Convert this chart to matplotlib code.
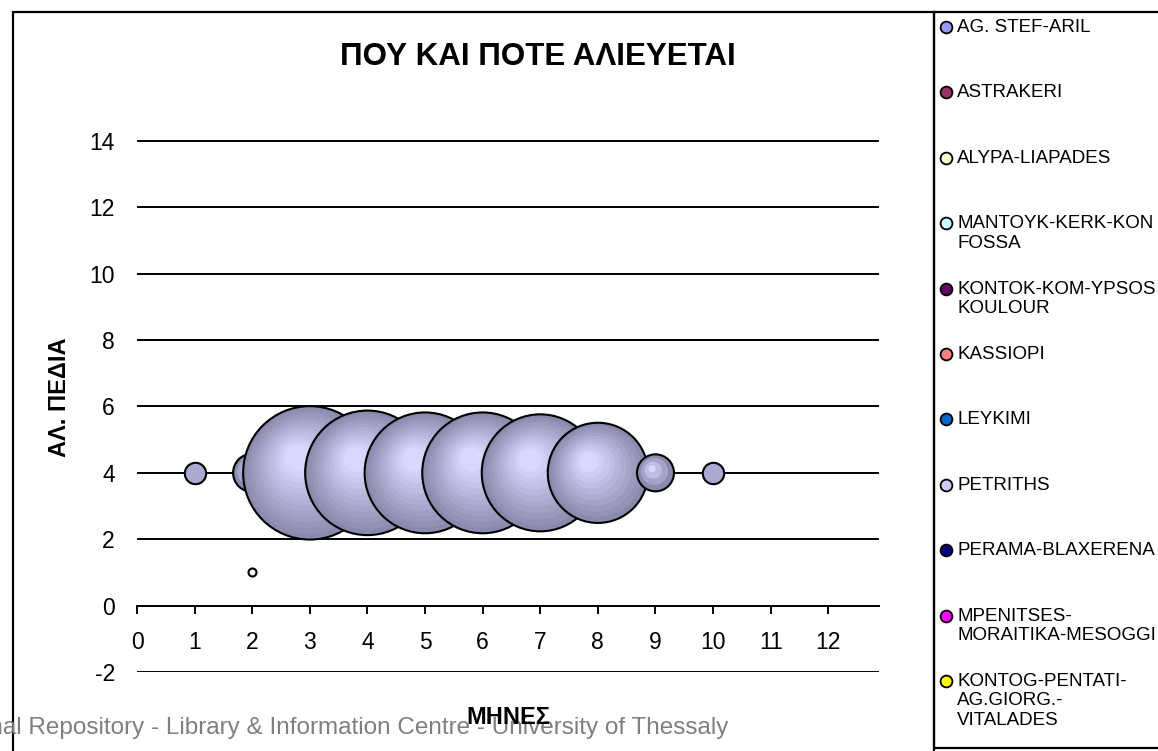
import numpy as np
import matplotlib
matplotlib.use('Agg')
import matplotlib.pyplot as plt
from matplotlib.transforms import ScaledTranslation
from matplotlib.patches import Rectangle
from matplotlib.lines import Line2D
from matplotlib.colors import to_rgb

plt.rcParams['font.family'] = ['Liberation Sans', 'DejaVu Sans']
plt.rcParams['axes.unicode_minus'] = False

# ---------------- data ----------------
months = [1, 2, 3, 4, 5, 6, 7, 8, 9, 10]
fields = [4, 4, 4, 4, 4, 4, 4, 4, 4, 4]
catch = [1, 3.2, 39, 34, 32, 32, 30, 22, 3, 1]

extra_months = [2]
extra_fields = [1]
extra_catch = [0.14]

series_names = [
    "AG. STEF-ARIL",
    "ASTRAKERI",
    "ALYPA-LIAPADES",
    "MANTOYK-KERK-KON\nFOSSA",
    "KONTOK-KOM-YPSOS\nKOULOUR",
    "KASSIOPI",
    "LEYKIMI",
    "PETRITHS",
    "PERAMA-BLAXERENA",
    "MPENITSES-\nMORAITIKA-MESOGGI",
    "KONTOG-PENTATI-\nAG.GIORG.-\nVITALADES",
]
series_colors = ['#9999FF', '#993366', '#FFFFCC', '#CCFFFF', '#660066', '#FF8080',
                 '#0066CC', '#CCCCFF', '#000080', '#FF00FF', '#FFFF00']

x_ticks = list(range(0, 13))
y_ticks = [-2, 0, 2, 4, 6, 8, 10, 12, 14]

title = 'ΠΟΥ ΚΑΙ ΠΟΤΕ ΑΛΙΕΥΕΤΑΙ'
xlabel = 'ΜΗΝΕΣ'
ylabel = 'ΑΛ. ΠΕΔΙΑ'
watermark = 'Institutional Repository - Library & Information Centre - University of Thessaly'

# ---------------- figure ----------------
W, H, DPI = 1158, 751, 100
fig = plt.figure(figsize=(W / DPI, H / DPI), dpi=DPI)
fig.patch.set_facecolor('white')


def fx(px):
    return px / W


def fy(py):
    return 1 - py / H


ax = fig.add_axes([fx(137), fy(672), fx(879) - fx(137), fy(121) - fy(672)])
ax.set_xlim(0, 12.88)
ax.set_ylim(-2, 14.6)
ax.set_facecolor('none')

for s in ['left', 'right', 'top']:
    ax.spines[s].set_visible(False)
ax.spines['bottom'].set_position(('data', 0))
ax.spines['bottom'].set_linewidth(1.4)

ax.set_xticks(x_ticks)
ax.set_yticks(y_ticks)
ax.yaxis.grid(True, color='black', linewidth=1.4)
ax.set_axisbelow(True)
ax.tick_params(axis='y', length=0, pad=16, labelsize=16.5)
ax.tick_params(axis='x', direction='out', length=6, width=1.4, pad=12, labelsize=16.5)

# ---------------- bubbles ----------------
edge_rgb = np.array(to_rgb('#8A8AAE'))
center_rgb = np.array(to_rgb('#D8D8FF'))
flat_col = '#A9A9D1'
K = 10.68  # pixels of radius per sqrt(value)


def size_pts2(r_px):
    return (2 * r_px * 72 / DPI) ** 2


z = 3
for x, y, v in zip(months, fields, catch):
    r = K * np.sqrt(v)
    if r < 14:
        ax.scatter([x], [y], s=size_pts2(r), color=flat_col, edgecolors='black',
                   linewidths=1.5, zorder=z)
        z += 1
        continue
    n = max(4, int(r / 5))
    for i in range(n):
        t = i / (n - 1)
        rl = r * (1 - 0.8 * t)
        dx = -0.18 * r * t / DPI
        dy = 0.22 * r * t / DPI
        tr = ax.transData + ScaledTranslation(dx, dy, fig.dpi_scale_trans)
        col = edge_rgb + (center_rgb - edge_rgb) * t
        ax.scatter([x], [y], s=size_pts2(rl), color=[col], edgecolors='none',
                   transform=tr, zorder=z)
        z += 1
    ax.scatter([x], [y], s=size_pts2(r), facecolors='none', edgecolors='black',
               linewidths=1.5, zorder=z)
    z += 1

for x, y, v in zip(extra_months, extra_fields, extra_catch):
    r = K * np.sqrt(v)
    ax.scatter([x], [y], s=size_pts2(r), color='white', edgecolors='black',
               linewidths=1.5, zorder=z)
    z += 1

# ---------------- frames ----------------
fig.patches.append(Rectangle((fx(13), fy(770)), fx(934) - fx(13), fy(12) - fy(770),
                             transform=fig.transFigure, fill=False, lw=1.6, ec='black'))
fig.patches.append(Rectangle((fx(934), fy(748)), fx(1180) - fx(934), fy(12) - fy(748),
                             transform=fig.transFigure, fill=False, lw=1.6, ec='black'))

# ---------------- legend ----------------
for i, (name, color) in enumerate(zip(series_names, series_colors)):
    yc = 27 + 65.4 * i
    fig.add_artist(Line2D([fx(946)], [fy(yc)], marker='o', markersize=8.5,
                          markerfacecolor=color, markeredgecolor='black',
                          markeredgewidth=1.3, transform=fig.transFigure))
    fig.text(fx(957), fy(yc - 8), name, ha='left', va='top', fontsize=13.5,
             linespacing=1.18)

# ---------------- texts ----------------
fig.text(fx(538), fy(57), title, ha='center', va='center', fontweight='bold', fontsize=22.5)
fig.text(fx(60), fy(397), ylabel, ha='center', va='center', rotation=90,
         fontweight='bold', fontsize=17)
fig.text(fx(728), fy(728), watermark, ha='right', va='center', color='#7f7f7f', fontsize=17.5)
fig.text(fx(508), fy(717), xlabel, ha='center', va='center', fontweight='bold', fontsize=17)

fig.savefig('out.png', dpi=DPI)
